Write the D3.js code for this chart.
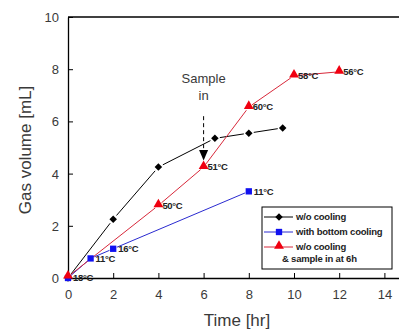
<!DOCTYPE html>
<html>
<head>
<meta charset="utf-8">
<script src="https://cdn.jsdelivr.net/npm/d3@7"></script>
<style>
  html, body { margin: 0; padding: 0; background: #fff; }
  svg { display: block; font-family: "Liberation Sans", Arial, sans-serif; }
</style>
</head>
<body>
<svg id="chart" width="399" height="334"></svg>
<script>
// series: w/o cooling
const hoursNoCool = [0, 2, 4, 6.5, 8, 9.5];
const volNoCool = [0, 2.25, 4.25, 5.35, 5.55, 5.75];
// series: with bottom cooling
const hoursBottom = [0, 1, 2, 8];
const volBottom = [0, 0.75, 1.12, 3.32];
const tempBottom = ["18°C", "11°C", "16°C", "11°C"];
// series: w/o cooling & sample in at 6h
const hoursSample = [0, 4, 6, 8, 10, 12];
const volSample = [0.05, 2.78, 4.25, 6.55, 7.75, 7.9];
const tempSample = ["", "50°C", "51°C", "60°C", "58°C", "56°C"];

const xTicks = [0, 2, 4, 6, 8, 10, 12, 14];
const yTicks = [0, 2, 4, 6, 8, 10];
const legendLabels = ["w/o cooling", "with bottom cooling", "w/o cooling"];

const svg = d3.select("#chart");
const margin = { left: 68, top: 17, bottom: 56 };
const x = d3.scaleLinear().domain([0, 16]).range([margin.left, margin.left + 16 * 22.6]);
const y = d3.scaleLinear().domain([0, 10]).range([278, margin.top]);

// frame (right edge lies outside the picture)
svg.append("line").attr("x1", x(0)).attr("x2", x(16)).attr("y1", y(10)).attr("y2", y(10))
  .attr("stroke", "#000").attr("stroke-width", 1.3);

const xAxis = svg.append("g")
  .attr("transform", "translate(0," + y(0) + ")")
  .call(d3.axisBottom(x).tickValues(xTicks).tickSize(-5).tickPadding(12).tickSizeOuter(0));
const yAxis = svg.append("g")
  .attr("transform", "translate(" + x(0) + ",0)")
  .call(d3.axisLeft(y).tickValues(yTicks).tickSize(-5).tickPadding(9).tickSizeOuter(0));
[xAxis, yAxis].forEach(function (g) {
  g.select(".domain").attr("stroke", "#000").attr("stroke-width", 1.3);
  g.selectAll(".tick line").attr("stroke", "#000");
  g.selectAll(".tick text").attr("fill", "#3a3a3a").attr("font-size", 13)
    .attr("font-family", "'Liberation Sans', Arial, sans-serif");
});
yAxis.selectAll(".tick text").attr("dy", "0.35em");

svg.append("text").attr("x", 237).attr("y", 326).attr("text-anchor", "middle")
  .attr("font-size", 17).attr("fill", "#3a3a3a").text("Time [hr]");
svg.append("text").attr("transform", "translate(31,150) rotate(-90)").attr("text-anchor", "middle")
  .attr("font-size", 17).attr("fill", "#3a3a3a").text("Gas volume [mL]");

// lines with small gaps around the markers
function drawLine(xs, ys, color, gap) {
  for (let i = 0; i < xs.length - 1; i++) {
    const x1 = x(xs[i]), y1 = y(ys[i]), x2 = x(xs[i + 1]), y2 = y(ys[i + 1]);
    const len = Math.hypot(x2 - x1, y2 - y1);
    const ux = (x2 - x1) / len, uy = (y2 - y1) / len;
    svg.append("line")
      .attr("x1", x1 + ux * gap).attr("y1", y1 + uy * gap)
      .attr("x2", x2 - ux * gap).attr("y2", y2 - uy * gap)
      .attr("stroke", color).attr("stroke-width", 1);
  }
}
drawLine(hoursNoCool, volNoCool, "#000", 5);
drawLine(hoursBottom, volBottom, "#2a2ad0", 4);
drawLine(hoursSample, volSample, "#d8283a", 4);

const diamond = d3.symbol().type(d3.symbolDiamond2).size(36);
const square = d3.symbol().type(d3.symbolSquare).size(40);
const triangle = d3.symbol().type(d3.symbolTriangle).size(42);

svg.append("g").selectAll("path").data(hoursNoCool).join("path")
  .attr("d", diamond).attr("fill", "#000")
  .attr("transform", (d, i) => "translate(" + x(d) + "," + y(volNoCool[i]) + ")");
svg.append("g").selectAll("path").data(hoursBottom).join("path")
  .attr("d", square).attr("fill", "#1010f0")
  .attr("transform", (d, i) => "translate(" + x(d) + "," + y(volBottom[i]) + ")");
svg.append("g").selectAll("path").data(hoursSample).join("path")
  .attr("d", triangle).attr("fill", "#f00010")
  .attr("transform", (d, i) => "translate(" + x(d) + "," + (y(volSample[i]) - 1) + ")");

// temperature labels
function tempLabels(xs, ys, labels, dx) {
  svg.append("g").selectAll("text").data(labels).join("text")
    .attr("x", (d, i) => x(xs[i]) + dx)
    .attr("y", (d, i) => y(ys[i]))
    .attr("dy", "0.35em")
    .attr("font-size", 9.5).attr("font-weight", "bold").attr("fill", "#222")
    .attr("letter-spacing", -0.3)
    .text(d => d);
}
tempLabels(hoursBottom, volBottom, tempBottom, 5);
tempLabels(hoursSample, volSample, tempSample, 4);

// "Sample in" annotation
svg.append("text").attr("x", x(6)).attr("y", 83).attr("text-anchor", "middle")
  .attr("font-size", 13).attr("fill", "#3a3a3a").text("Sample");
svg.append("text").attr("x", x(6)).attr("y", 100).attr("text-anchor", "middle")
  .attr("font-size", 13).attr("fill", "#3a3a3a").text("in");
svg.append("line").attr("x1", x(6)).attr("x2", x(6)).attr("y1", y(6.2)).attr("y2", y(4.9))
  .attr("stroke", "#000").attr("stroke-dasharray", "4,3");
svg.append("path")
  .attr("d", "M" + (x(6) - 4.5) + "," + y(4.9) + "L" + (x(6) + 4.5) + "," + y(4.9) + "L" + x(6) + "," + y(4.5) + "Z")
  .attr("fill", "#000");

// legend
const lg = svg.append("g").attr("transform", "translate(262,207)");
lg.append("rect").attr("width", 130).attr("height", 62).attr("fill", "#fff")
  .attr("stroke", "#000").attr("stroke-width", 1);
const legendColors = ["#000", "#2a2ad0", "#d8283a"];
const legendMarks = [diamond, square, triangle];
const legendFills = ["#000", "#1010f0", "#f00010"];
legendLabels.forEach(function (label, i) {
  const ly = 10 + i * 15;
  lg.append("line").attr("x1", 2).attr("x2", 31).attr("y1", ly).attr("y2", ly)
    .attr("stroke", legendColors[i]);
  lg.append("path").attr("d", legendMarks[i]).attr("fill", legendFills[i])
    .attr("transform", "translate(17," + (i === 2 ? ly - 1 : ly) + ")");
  lg.append("text").attr("x", 34).attr("y", ly).attr("dy", "0.35em")
    .attr("font-size", 9.5).attr("font-weight", "bold").attr("fill", "#222")
    .attr("letter-spacing", -0.2).text(label);
});
lg.append("text").attr("x", 20).attr("y", 55).attr("font-size", 9.5).attr("font-weight", "bold")
  .attr("fill", "#222").attr("letter-spacing", -0.2).text("& sample in at 6h");
</script>
</body>
</html>
